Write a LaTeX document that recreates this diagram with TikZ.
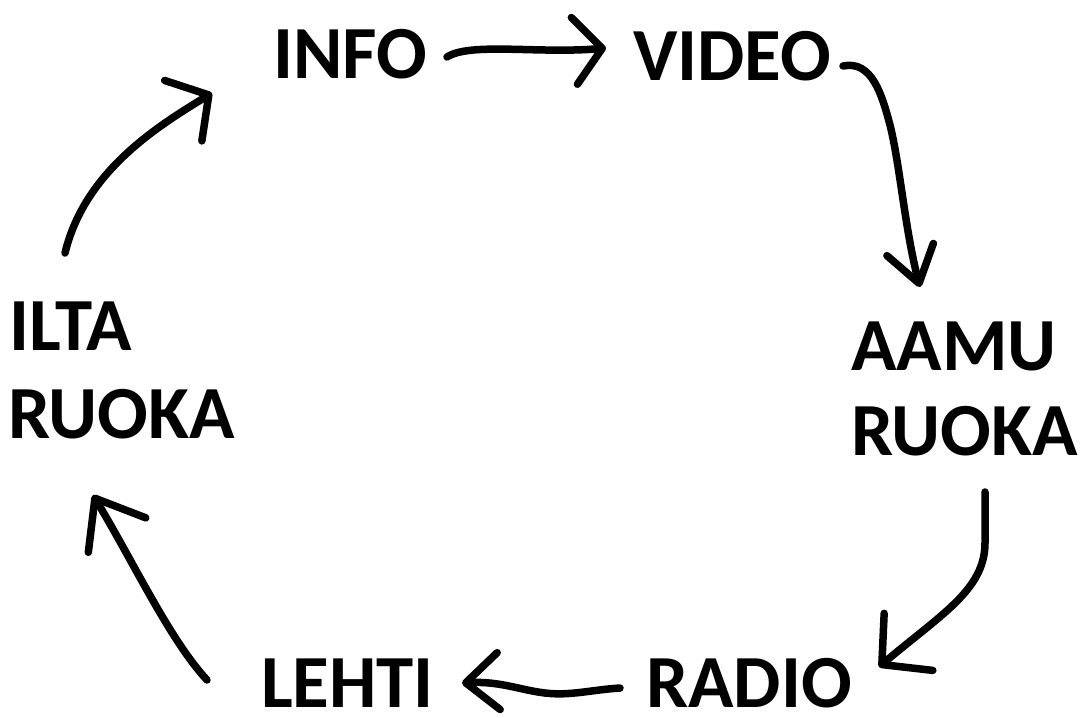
\documentclass[tikz,border=0pt]{standalone}
\usepackage{fontspec}
\setmainfont{Carlito}
\usetikzlibrary{arrows.meta}
\begin{document}
\begin{tikzpicture}[x=1pt,y=-1pt,
  lbl/.style={anchor=base west,inner sep=0pt,text depth=0pt,font=\fontsize{75}{90}\selectfont\bfseries},
  hand/.style={line width=7.5pt,line cap=round,line join=round},
  hd/.style 2 args={-{Straight Barb[length=#1pt,width=#2pt,line cap=round,line join=round]}}]
\fill[white] (0,0) rectangle (1080,718);
\useasboundingbox (0,0) rectangle (1080,718);
% labels
\node[lbl] (info)   at (273,78)  {INFO};
\node[lbl] (video)  at (633,80)  {VIDEO};
\node[lbl] (aamu)   at (851,370) {AAMU};
\node[lbl] (aamur)  at (851,455) {RUOKA};
\node[lbl] (lehti)  at (261,707) {LEHTI};
\node[lbl] (radio)  at (646,707) {RADIO};
\node[lbl] (ilta)   at (9,350)   {ILTA};
\node[lbl] (iltar)  at (8,438)   {RUOKA};
% connector end points
\coordinate (a1s) at (447,57);  \coordinate (a1e) at (606,48);
\coordinate (a2s) at (843,66);  \coordinate (a2e) at (920,287);
\coordinate (a3s) at (985,492); \coordinate (a3e) at (879,667);
\coordinate (a4s) at (620,688); \coordinate (a4e) at (462,683);
\coordinate (a5s) at (207,680); \coordinate (a5e) at (93,495);
\coordinate (a6s) at (65,253);  \coordinate (a6e) at (212,93);
% connectors
\draw[hand,hd={28}{67}] (a1s) .. controls (470,42) and (540,54) .. (a1e);
\draw[hand,hd={35}{48}] (a2s) .. controls (872,60) and (882,95) .. (890,125)
      .. controls (900,165) and (905,230) .. (a2e);
\draw[hand,hd={35}{75}] (a3s) -- (985,543) .. controls (985,590) and (940,615) .. (a3e);
\draw[hand,hd={33}{57}] (a4s) .. controls (590,690) and (570,696) .. (545,693)
      .. controls (520,690) and (500,681) .. (a4e);
\draw[hand,hd={43}{67}] (a5s) .. controls (170,640) and (135,565) .. (a5e);
\draw[hand,hd={30}{71}] (a6s) .. controls (85,170) and (160,125) .. (a6e);
\end{tikzpicture}
\end{document}
